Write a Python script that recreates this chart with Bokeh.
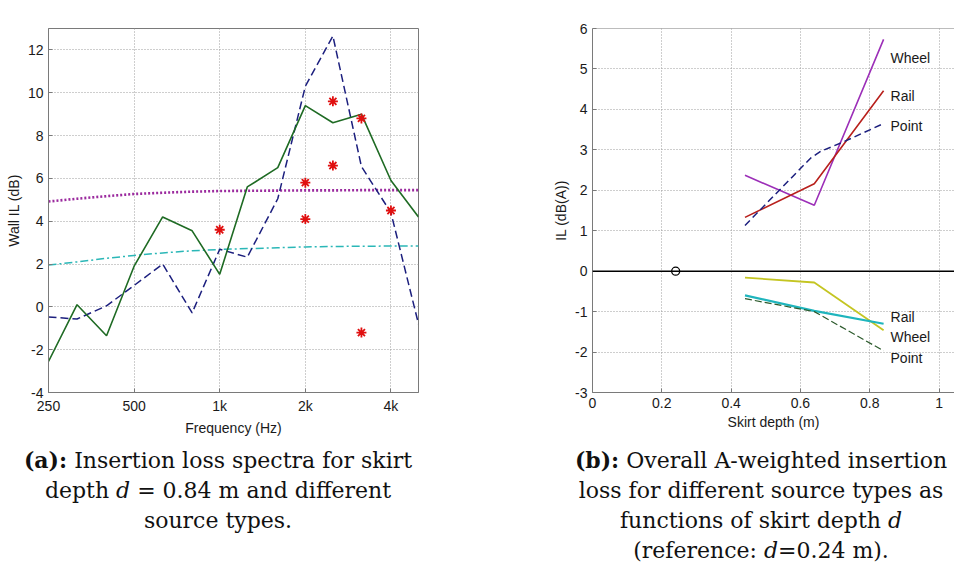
from bokeh.plotting import figure
from bokeh.models import Range1d, FixedTicker, Span, Div
from bokeh.layouts import column, row
from bokeh.core.properties import value
from bokeh.embed import file_html
from bokeh.resources import INLINE

# ---------------- data: panel (a) ----------------
freq = [250, 315, 400, 500, 630, 800, 1000, 1250, 1600, 2000, 2500, 3150, 4000, 5000]
il_green = [-2.55, 0.1, -1.35, 1.9, 4.2, 3.55, 1.52, 5.6, 6.5, 9.4, 8.6, 9.0, 5.9, 4.2]
il_navy = [-0.47, -0.57, 0.05, 1.0, 2.0, -0.28, 2.69, 2.32, 5.05, 10.3, 12.65, 6.55, 4.4, -0.8]
il_purple = [4.92, 5.05, 5.17, 5.27, 5.33, 5.38, 5.41, 5.42, 5.43, 5.44, 5.44, 5.45, 5.45, 5.45]
il_cyan = [1.95, 2.1, 2.27, 2.4, 2.52, 2.62, 2.68, 2.72, 2.76, 2.8, 2.82, 2.83, 2.84, 2.84]
star_freq = [1000, 2000, 2000, 2500, 2500, 3150, 3150, 4000]
star_il = [3.6, 5.8, 4.1, 9.6, 6.6, 8.8, -1.2, 4.5]
a_xticks = [250, 500, 1000, 2000, 4000]
a_xlabels = ["250", "500", "1k", "2k", "4k"]
a_yticks = [-4, -2, 0, 2, 4, 6, 8, 10, 12]

# ---------------- data: panel (b) ----------------
depth = [0.44, 0.64, 0.84]
wheel_up = [2.37, 1.63, 5.73]
rail_up = [1.33, 2.16, 4.46]
point_up_depth = [0.44, 0.63, 0.66, 0.72, 0.84]
point_up = [1.13, 2.8, 2.97, 3.18, 3.65]
wheel_low = [-0.16, -0.28, -1.46]
rail_low = [-0.6, -0.98, -1.3]
point_low = [-0.68, -1.0, -1.97]
ref_depth = [0.24]
ref_il = [0.0]
up_labels = ["Wheel", "Rail", "Point"]
up_label_y = [5.28, 4.34, 3.6]
low_labels = ["Rail", "Wheel", "Point"]
low_label_y = [-1.14, -1.62, -2.14]
label_x = 0.86
b_xticks = [0, 0.2, 0.4, 0.6, 0.8, 1.0]
b_xlabels = ["0", "0.2", "0.4", "0.6", "0.8", "1"]
b_yticks = [-3, -2, -1, 0, 1, 2, 3, 4, 5, 6]

FONT = "Liberation Sans"
FRAME = "#7a7a7a"
GRID = "#9c9c9c"


def style_axes(p):
    for ax in p.xaxis + p.yaxis:
        ax.axis_line_color = FRAME
        ax.major_tick_line_color = FRAME
        ax.major_tick_in = 4
        ax.major_tick_out = 0
        ax.minor_tick_line_color = None
        ax.major_label_text_font = FONT
        ax.major_label_text_font_size = "14px"
        ax.major_label_text_color = "#1a1a1a"
        ax.axis_label_text_font = FONT
        ax.axis_label_text_font_size = "14px"
        ax.axis_label_text_font_style = "normal"
        ax.axis_label_text_color = "#1a1a1a"
        ax.major_label_standoff = 5
        ax.axis_label_standoff = 3
    for g in p.grid:
        g.grid_line_color = GRID
        g.grid_line_dash = "1 2"
        g.grid_line_width = 1


# ---------------- panel (a) ----------------
pa = figure(width=550, height=438, x_axis_type="log",
            x_range=Range1d(250, 5000), y_range=Range1d(-4, 13),
            output_backend="svg", toolbar_location=None,
            min_border_left=48, min_border_right=132, min_border_top=28, min_border_bottom=41,
            background_fill_color="white", border_fill_color="white",
            x_axis_label="Frequency (Hz)", y_axis_label="Wall IL (dB)")
pa.outline_line_color = FRAME
pa.xaxis.ticker = FixedTicker(ticks=a_xticks)
pa.xaxis.major_label_overrides = {t: l for t, l in zip(a_xticks, a_xlabels)}
pa.yaxis.ticker = FixedTicker(ticks=a_yticks)
pa.yaxis.major_label_overrides = {t: str(t) for t in a_yticks}
pa.xgrid.ticker = FixedTicker(ticks=a_xticks)
pa.ygrid.ticker = FixedTicker(ticks=a_yticks)
style_axes(pa)

pa.line(freq, il_purple, line_color="#9b2a9e", line_width=2.6, line_dash="2 2")
pa.line(freq, il_cyan, line_color="#2bb7b7", line_width=1.5, line_dash="8 3 2 3")
pa.line(freq, il_navy, line_color="#1c1f7e", line_width=1.5, line_dash="8 4")
pa.line(freq, il_green, line_color="#1f6b24", line_width=1.6)
pa.scatter(star_freq, star_il, marker="asterisk", size=10, line_color="#e01010", line_width=1.8)

# ---------------- panel (b) ----------------
pb = figure(width=404, height=438,
            x_range=Range1d(0, 1.0446), y_range=Range1d(-3, 6),
            output_backend="svg", toolbar_location=None,
            min_border_left=41, min_border_right=0, min_border_top=17, min_border_bottom=46,
            background_fill_color="white", border_fill_color="white",
            x_axis_label="Skirt depth (m)", y_axis_label="IL (dB(A))")
pb.outline_line_color = None
pb.xaxis.ticker = FixedTicker(ticks=b_xticks)
pb.xaxis.major_label_overrides = {t: l for t, l in zip(b_xticks, b_xlabels)}
pb.yaxis.ticker = FixedTicker(ticks=b_yticks)
pb.yaxis.major_label_overrides = {t: str(t) for t in b_yticks}
pb.xgrid.ticker = FixedTicker(ticks=b_xticks)
pb.ygrid.ticker = FixedTicker(ticks=b_yticks)
style_axes(pb)
# top edge of the axes box (the box's right side lies beyond the page)
pb.add_layout(Span(location=b_yticks[-1], dimension="width", line_color=FRAME, line_width=1))

pb.add_layout(Span(location=0, dimension="width", line_color="black", line_width=1.5))
pb.scatter(ref_depth, ref_il, marker="circle", size=8, fill_color=None,
           line_color="black", line_width=1.3)

pb.line(depth, wheel_up, line_color="#9c2fb8", line_width=1.6)
pb.line(depth, rail_up, line_color="#b8201c", line_width=1.6)
pb.line(point_up_depth, point_up, line_color="#1c1f7e", line_width=1.5, line_dash="7 4")
pb.line(depth, wheel_low, line_color="#c4c522", line_width=1.8)
pb.line(depth, rail_low, line_color="#1fb5bd", line_width=2.2)
pb.line(depth, point_low, line_color="#2c5a2c", line_width=1.2, line_dash="7 3")

pb.text(x=[label_x] * 3, y=up_label_y, text=up_labels, text_font=value(FONT),
        text_font_size="14px", text_baseline="middle", text_align="left", text_color="#1a1a1a")
pb.text(x=[label_x] * 3, y=low_label_y, text=low_labels, text_font=value(FONT),
        text_font_size="14px", text_baseline="middle", text_align="left", text_color="#1a1a1a")

# ---------------- captions ----------------
cap_a = ["<b>(a):</b> Insertion loss spectra for skirt",
         "depth <i>d</i> = 0.84 m and different",
         "source types."]
cap_b = ["<b>(b):</b> Overall A-weighted insertion",
         "loss for different source types as",
         "functions of skirt depth <i>d</i>",
         "(reference: <i>d</i>=0.24 m)."]

block = ("<div style=\"position:absolute;left:{left}px;top:7px;width:{w}px;"
         "text-align:center;white-space:nowrap\">{body}</div>")
html = ("<div style=\"position:relative;width:954px;height:128px;overflow:hidden;"
        "font-family:'DejaVu Serif';font-size:22px;line-height:30px;color:#111\">"
        + block.format(left=0, w=436, body="<br>".join(cap_a))
        + block.format(left=568, w=386, body="<br>".join(cap_b))
        + "</div>")
caption = Div(text=html, width=954, height=128, margin=(0, 0, 0, 0))

layout = column(row(pa, pb), caption)
open("out.html", "w").write(file_html(layout, INLINE))
